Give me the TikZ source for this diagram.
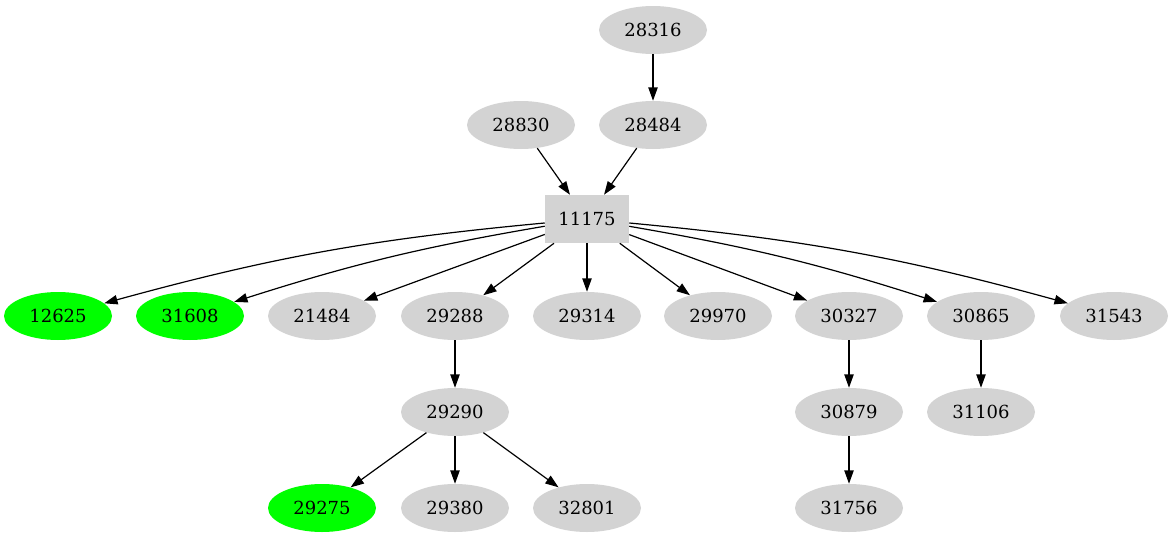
\documentclass[tikz,border=0pt]{standalone}
\usepackage{fontspec}
\setmainfont{DejaVu Serif}
\usetikzlibrary{shapes.geometric,arrows.meta}
\definecolor{nodegray}{RGB}{211,211,211}
\definecolor{hitgreen}{RGB}{0,255,0}
\tikzset{
	gnode/.style={ellipse,fill=nodegray,minimum width=81pt,minimum height=36pt,inner sep=0pt,font=\fontsize{13.5}{16}\selectfont},
	hit/.style={gnode,fill=hitgreen},
	gbox/.style={rectangle,fill=nodegray,minimum width=63pt,minimum height=36pt,inner sep=0pt,font=\fontsize{13.5}{16}\selectfont},
	edge/.style={-{Triangle[length=10pt,width=7pt]},black,line width=0.9pt}
}
\begin{document}
\begin{tikzpicture}[x=0.75pt,y=-0.75pt]
	      		\useasboundingbox (0,0) rectangle (1174,539);
	      		% top
	      		\node[gnode] (n28316) at (653,30) {28316};
	      		\node[gnode] (n28830) at (521,125) {28830};
	      		\node[gnode] (n28484) at (653,125) {28484};
	      		\node[gbox] (n11175) at (587,219) {11175};
	      		% children
	      		\node[hit] (n12625) at (58,316) {12625};
	      		\node[hit] (n31608) at (190,316) {31608};
	      		\node[gnode] (n21484) at (322,316) {21484};
	      		\node[gnode] (n29288) at (455,316) {29288};
	      		\node[gnode] (n29314) at (587,316) {29314};
	      		\node[gnode] (n29970) at (718,316) {29970};
	      		\node[gnode] (n30327) at (849,316) {30327};
	      		\node[gnode] (n30865) at (981,316) {30865};
	      		\node[gnode] (n31543) at (1114,316) {31543};
	      		\node[gnode] (n29290) at (455,412) {29290};
	      		\node[gnode] (n30879) at (849,412) {30879};
	      		\node[gnode] (n31106) at (981,412) {31106};
	      		\node[hit] (n29275) at (322,508) {29275};
	      		\node[gnode] (n29380) at (455,508) {29380};
	      		\node[gnode] (n32801) at (587,508) {32801};
	      		\node[gnode] (n31756) at (849,508) {31756};
	      		% edges
	      		\draw[edge] (n28316) -- (n28484);
	      		\draw[edge] (n28830) -- (n11175);
	      		\draw[edge] (n28484) -- (n11175);
	      		\draw[edge] (n11175) to[bend right=5] (n12625);
	      		\draw[edge] (n11175) to[bend right=4] (n31608);
	      		\draw[edge] (n11175) -- (n21484);
	      		\draw[edge] (n11175) -- (n29288);
	      		\draw[edge] (n11175) -- (n29314);
	      		\draw[edge] (n11175) -- (n29970);
	      		\draw[edge] (n11175) -- (n30327);
	      		\draw[edge] (n11175) to[bend left=4] (n30865);
	      		\draw[edge] (n11175) to[bend left=5] (n31543);
	      		\draw[edge] (n29288) -- (n29290);
	      		\draw[edge] (n29290) -- (n29275);
	      		\draw[edge] (n29290) -- (n29380);
	      		\draw[edge] (n29290) -- (n32801);
	      		\draw[edge] (n30327) -- (n30879);
	      		\draw[edge] (n30879) -- (n31756);
	      		\draw[edge] (n30865) -- (n31106);
	      	\end{tikzpicture}
\end{document}
